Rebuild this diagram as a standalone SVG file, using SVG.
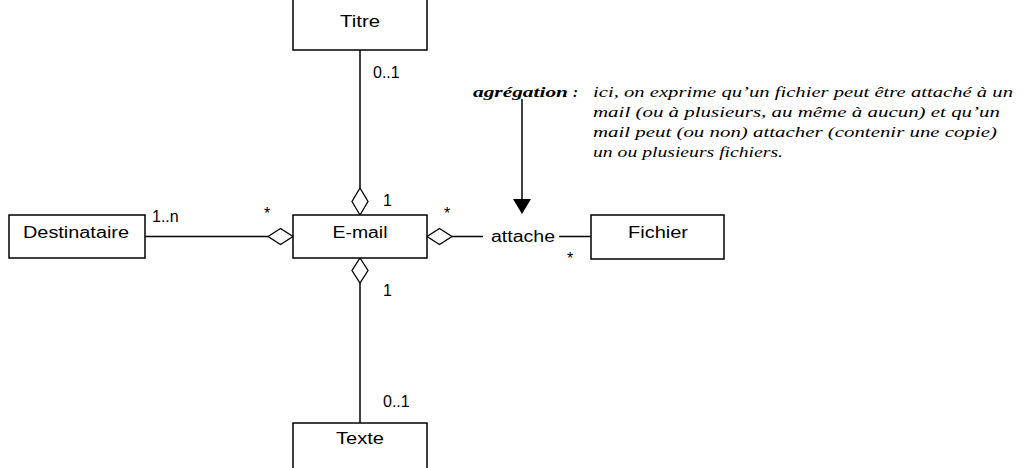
<svg xmlns="http://www.w3.org/2000/svg" width="1025" height="468" viewBox="0 0 1025 468">
<style>
.box{fill:#fff;stroke:#000;stroke-width:1.5}
.lbl{font-family:"Liberation Sans",Arial,sans-serif;font-size:16px;fill:#000}
.ln{stroke:#000;stroke-width:1.5;fill:none}
.dia{fill:#fff;stroke:#000;stroke-width:1.3}
.note{font-family:"Liberation Serif","Times New Roman",serif;font-style:italic;font-size:15px;fill:#000}
.noteb{font-family:"Liberation Serif","Times New Roman",serif;font-style:italic;font-weight:bold;font-size:15px;fill:#000}
</style>
<rect width="1025" height="468" fill="#fff"/>
<g id="connectors">
<line class="ln" x1="360" y1="50" x2="360" y2="188"/>
<line class="ln" x1="360" y1="283" x2="360" y2="423"/>
<line class="ln" x1="145" y1="236.5" x2="268" y2="236.5"/>
<line class="ln" x1="452" y1="236.5" x2="483" y2="236.5"/>
<line class="ln" x1="559" y1="236.5" x2="591" y2="236.5"/>
<polygon class="dia" points="360,188 368,201.5 360,215 352,201.5"/>
<polygon class="dia" points="360,258 368,270.5 360,283 352,270.5"/>
<polygon class="dia" points="268,236.5 280.5,228.5 293,236.5 280.5,244.5"/>
<polygon class="dia" points="427,236.5 439.5,228.5 452,236.5 439.5,244.5"/>
<text class="lbl" x="373" y="78">0..1</text>
<text class="lbl" x="383" y="206">1</text>
<text class="lbl" x="383" y="296">1</text>
<text class="lbl" x="383" y="407">0..1</text>
<text class="lbl" x="152" y="222">1..n</text>
<text class="lbl" x="264" y="219">*</text>
<text class="lbl" x="444" y="219">*</text>
<text class="lbl" x="567" y="264">*</text>
<text class="lbl" x="491" y="242" textLength="64" lengthAdjust="spacingAndGlyphs">attache</text>
</g>
<g id="annotation">
<line class="ln" x1="522" y1="99" x2="522" y2="200"/>
<polygon points="513,199 531,199 522,214" fill="#000"/>
<text class="noteb" x="473" y="97" textLength="95" lengthAdjust="spacingAndGlyphs">agrégation</text>
<text class="noteb" x="573" y="97">:</text>
<text class="note" x="593" y="97" textLength="420" lengthAdjust="spacingAndGlyphs">ici, on exprime qu’un fichier peut être attaché à un</text>
<text class="note" x="593" y="117" textLength="407" lengthAdjust="spacingAndGlyphs">mail (ou à plusieurs, au même à aucun) et qu’un</text>
<text class="note" x="593" y="137" textLength="404" lengthAdjust="spacingAndGlyphs">mail peut (ou non) attacher (contenir une copie)</text>
<text class="note" x="593" y="157" textLength="190" lengthAdjust="spacingAndGlyphs">un ou plusieurs fichiers.</text>
</g>
<g id="Titre">
<rect class="box" x="293" y="-1" width="134" height="51"/>
<text class="lbl" x="360" y="27" text-anchor="middle" textLength="40" lengthAdjust="spacingAndGlyphs">Titre</text>
</g>
<g id="Email">
<rect class="box" x="293" y="215" width="134" height="43"/>
<text class="lbl" x="360" y="238" text-anchor="middle" textLength="55" lengthAdjust="spacingAndGlyphs">E-mail</text>
</g>
<g id="Destinataire">
<rect class="box" x="9" y="215" width="136" height="43"/>
<text class="lbl" x="76" y="238" text-anchor="middle" textLength="106" lengthAdjust="spacingAndGlyphs">Destinataire</text>
</g>
<g id="Fichier">
<rect class="box" x="591" y="215" width="133" height="44"/>
<text class="lbl" x="658" y="238" text-anchor="middle" textLength="60" lengthAdjust="spacingAndGlyphs">Fichier</text>
</g>
<g id="Texte">
<rect class="box" x="293" y="423" width="134" height="50"/>
<text class="lbl" x="360" y="444" text-anchor="middle" textLength="48" lengthAdjust="spacingAndGlyphs">Texte</text>
</g>
</svg>
